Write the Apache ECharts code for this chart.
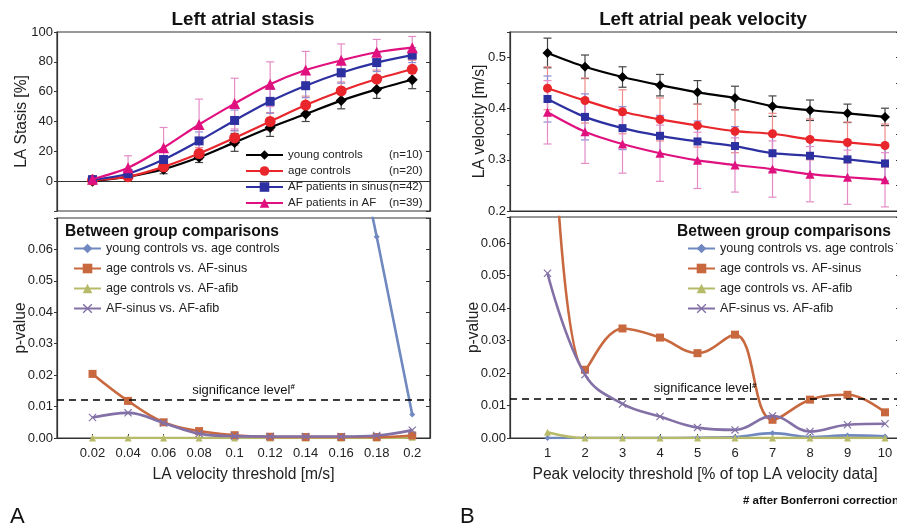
<!DOCTYPE html>
<html><head><meta charset="utf-8">
<script src="https://cdn.jsdelivr.net/npm/echarts@6/dist/echarts.min.js"></script>
<style>html,body{margin:0;padding:0;background:#fff}#c{width:897px;height:529px}</style>
</head><body><div id="c"></div>
<script>
// ---------- data ----------
const thresholdsA = [0.02, 0.04, 0.06, 0.08, 0.1, 0.12, 0.14, 0.16, 0.18, 0.2];
const thresholdsB = [1, 2, 3, 4, 5, 6, 7, 8, 9, 10];
const groups = ['young controls', 'age controls', 'AF patients in sinus', 'AF patients in AF'];
const groupN = ['(n=10)', '(n=20)', '(n=42)', '(n=39)'];

const stasisYoung = [0, 3, 8, 16, 26, 36, 45, 54, 61.5, 68];
const stasisAge   = [0.7, 3, 9.6, 18.5, 29, 40, 51, 60.5, 68.5, 75];
const stasisSinus = [1, 5, 14.5, 27, 40.7, 53.5, 64, 72.7, 79.5, 84.5];
const stasisAF    = [1.3, 9, 22.4, 38, 52, 65, 74.5, 81, 86.4, 89.5];
const stasisYoungSd = [1, 2, 3, 3.5, 6, 6, 5, 5.5, 6, 6];
const stasisAgeSd   = [1, 2, 3, 4, 5, 6, 6, 6, 6, 6];
const stasisSinusSd = [1, 3, 5, 6, 7, 8, 8, 7, 6, 5];
const stasisAFSd    = [1, 8, 13.6, 17, 17, 15, 12.5, 11, 8.6, 7.5];

const velYoung = [0.509, 0.482, 0.462, 0.446, 0.432, 0.421, 0.405, 0.397, 0.391, 0.384];
const velAge   = [0.440, 0.416, 0.394, 0.379, 0.367, 0.356, 0.351, 0.340, 0.334, 0.328];
const velSinus = [0.419, 0.384, 0.362, 0.347, 0.336, 0.327, 0.313, 0.308, 0.301, 0.293];
const velAF    = [0.393, 0.355, 0.331, 0.313, 0.299, 0.290, 0.282, 0.272, 0.266, 0.261];
const velYoungSd = [0.029, 0.023, 0.020, 0.021, 0.023, 0.023, 0.020, 0.020, 0.018, 0.017];
const velAgeSd   = [0.042, 0.044, 0.043, 0.042, 0.042, 0.042, 0.040, 0.040, 0.040, 0.042];
const velSinusSd = [0.045, 0.045, 0.042, 0.040, 0.040, 0.038, 0.036, 0.035, 0.035, 0.034];
const velAFSd    = [0.062, 0.062, 0.057, 0.055, 0.055, 0.053, 0.055, 0.054, 0.053, 0.053];

const comparisons = ['young controls vs. age controls', 'age controls vs. AF-sinus', 'age controls vs. AF-afib', 'AF-sinus vs. AF-afib'];
const pYoungAgeA  = [0.95, 0.85, 0.72, 0.58, 0.45, 0.33, 0.22, 0.12, 0.064, 0.0075];
const pAgeSinusA  = [0.0204, 0.0118, 0.0050, 0.0022, 0.0009, 0.0004, 0.0003, 0.0003, 0.0003, 0.0008];
const pAgeAfibA   = [0, 0, 0, 0, 0, 0, 0, 0, 0, 0.0002];
const pSinusAfibA = [0.0065, 0.0080, 0.0048, 0.0014, 0.0006, 0.0005, 0.0005, 0.0005, 0.0008, 0.0025];

const pYoungAgeB  = [0, 0, 0, 0, 0.0001, 0.0003, 0.0015, 0.0003, 0.0008, 0.0005];
const pAgeSinusB  = [0.14, 0.0210, 0.0337, 0.0309, 0.0261, 0.0318, 0.0056, 0.0118, 0.0133, 0.0079];
const pAgeAfibB   = [0.0018, 0, 0, 0, 0, 0, 0, 0, 0, 0];
const pSinusAfibB = [0.0507, 0.0195, 0.0105, 0.0066, 0.0032, 0.0025, 0.0068, 0.0020, 0.0041, 0.0044];

const significance = 0.0122;

// ---------- styles ----------
const FONT = 'Liberation Sans, Arial, Helvetica, sans-serif';
const groupColors = ['#000000', '#e8262b', '#2d30a0', '#e0117f'];
const errColors = ['#444444', '#f08a8a', '#8c8cd6', '#e58cc6'];
const groupSymbols = ['diamond', 'circle', 'rect', 'triangle'];
const groupSizesTop = [11, 11, 9, 11];
const groupSizesR = [10, 9, 8, 9];
const cmpColors = ['#7088c0', '#c8683f', '#b7ba68', '#8270a6'];
const XPATH = 'path://M1,0 L5,4 L9,0 L10,1 L6,5 L10,9 L9,10 L5,6 L1,10 L0,9 L4,5 L0,1 Z';
const cmpSymbols = ['diamond', 'rect', 'triangle', XPATH];
const cmpSizes = [6, 8, 7, 8];
const BORDER = '#333';

function pairs(xs, ys) { return xs.map((x, i) => [x, ys[i]]); }
function errData(xs, ys, sd) { return xs.map((x, i) => [x, ys[i] - sd[i], ys[i] + sd[i]]); }

function errRender(params, api) {
  const x = api.value(0), lo = api.value(1), hi = api.value(2);
  const a = api.coord([x, lo]), b = api.coord([x, hi]);
  const hw = 4;
  const st = { stroke: api.visual('color'), lineWidth: 1.2, fill: null };
  return { type: 'group', children: [
    { type: 'line', shape: { x1: a[0], y1: a[1], x2: b[0], y2: b[1] }, style: st },
    { type: 'line', shape: { x1: a[0] - hw, y1: a[1], x2: a[0] + hw, y2: a[1] }, style: st },
    { type: 'line', shape: { x1: b[0] - hw, y1: b[1], x2: b[0] + hw, y2: b[1] }, style: st }
  ]};
}

const grids = [
  { left: 57, top: 32, width: 373, height: 179 },
  { left: 510, top: 32, width: 390, height: 179 },
  { left: 57, top: 218, width: 373, height: 220 },
  { left: 510, top: 217, width: 390, height: 221 }
];
grids.forEach(g => { g.show = true; g.borderColor = BORDER; g.borderWidth = 1.2; g.backgroundColor = 'transparent'; g.outerBoundsMode = 'none'; g.containLabel = false; });

const axLine = { show: true, lineStyle: { color: BORDER, width: 1.2 } };
const lbl = { color: '#222', fontSize: 13, fontFamily: FONT };
const nameStyle = { fontSize: 15.6, color: '#222', fontFamily: FONT };

const xAxes = [
  { gridIndex: 0, type: 'value', min: 0, max: 0.21, interval: 0.02, axisLabel: { show: false }, axisTick: { show: false }, splitLine: { show: false }, axisLine: axLine },
  { gridIndex: 1, type: 'value', min: 0, max: 10.4, interval: 1, axisLabel: { show: false }, axisTick: { show: false }, splitLine: { show: false }, axisLine: axLine },
  { gridIndex: 2, type: 'value', min: 0, max: 0.21, interval: 0.02, splitLine: { show: false }, axisLine: axLine,
    axisTick: { inside: true, length: 4, lineStyle: { color: BORDER } },
    axisLabel: Object.assign({ margin: 9, formatter: v => (v < 0.01 || v > 0.205) ? '' : String(+v.toFixed(2)) }, lbl),
    name: 'LA velocity threshold [m/s]', nameLocation: 'middle', nameGap: 29, nameMoveOverlap: false, nameTextStyle: nameStyle },
  { gridIndex: 3, type: 'value', min: 0, max: 10.4, interval: 1, splitLine: { show: false }, axisLine: axLine,
    axisTick: { inside: true, length: 4, lineStyle: { color: BORDER } },
    axisLabel: Object.assign({ margin: 9, formatter: v => (v < 0.5 || v > 10.2) ? '' : String(v) }, lbl),
    name: 'Peak velocity threshold [% of top LA velocity data]', nameLocation: 'middle', nameGap: 29, nameMoveOverlap: false, nameTextStyle: nameStyle }
];

const yName = (name, gap) => ({ name, nameLocation: 'middle', nameGap: gap, nameRotate: 90, nameTextStyle: nameStyle });
const pFmt = v => v <= 0.0605 ? v.toFixed(2) : '';
const yDefs = [
  Object.assign({ min: -20, max: 100, interval: 20, fmt: v => v < 0 ? '' : String(v) }, yName('LA Stasis [%]', 27)),
  Object.assign({ min: 0.2, max: 0.55, interval: 0.05, fmt: v => { const k = Math.round(v * 100); return k % 10 === 0 ? String(k / 100) : ''; } }, yName('LA velocity [m/s]', 22)),
  Object.assign({ min: 0, max: 0.07, interval: 0.01, fmt: pFmt }, yName('p-value', 28)),
  Object.assign({ min: 0, max: 0.068, interval: 0.01, fmt: pFmt }, yName('p-value', 28))
];
const yAxes = [];
yDefs.forEach((d, i) => {
  yAxes.push({ gridIndex: i, type: 'value', min: d.min, max: d.max, interval: d.interval, position: 'left',
    splitLine: { show: false }, axisLine: axLine,
    axisTick: { show: true, length: 3, lineStyle: { color: BORDER } },
    axisLabel: Object.assign({ margin: 4, formatter: d.fmt }, lbl),
    name: d.name, nameLocation: d.nameLocation, nameGap: d.nameGap, nameRotate: d.nameRotate, nameMoveOverlap: false, nameTextStyle: d.nameTextStyle });
});
yDefs.forEach((d, i) => {
  yAxes.push({ gridIndex: i, type: 'value', min: d.min, max: d.max, interval: d.interval, position: 'right',
    splitLine: { show: false }, axisLine: axLine,
    axisTick: { show: true, inside: true, length: 4, lineStyle: { color: BORDER } },
    axisLabel: { show: false } });
});

const series = [];
const stasisMeans = [stasisYoung, stasisAge, stasisSinus, stasisAF];
const stasisSds = [stasisYoungSd, stasisAgeSd, stasisSinusSd, stasisAFSd];
const velMeans = [velYoung, velAge, velSinus, velAF];
const velSds = [velYoungSd, velAgeSd, velSinusSd, velAFSd];

[[0, thresholdsA, stasisMeans, stasisSds, groupSizesTop], [1, thresholdsB, velMeans, velSds, groupSizesR]].forEach(([gi, xs, means, sds, sizes]) => {
  means.forEach((m, k) => {
    series.push({ type: 'custom', name: 'err' + gi + k, xAxisIndex: gi, yAxisIndex: gi, z: 1,
      renderItem: errRender, itemStyle: { color: errColors[k] },
      encode: { x: 0, y: [1, 2] }, data: errData(xs, m, sds[k]), silent: true });
  });
  means.forEach((m, k) => {
    series.push({ type: 'line', name: groups[k], xAxisIndex: gi, yAxisIndex: gi, z: 3 + k,
      data: pairs(xs, m), symbol: groupSymbols[k], symbolSize: sizes[k], showAllSymbol: true,
      smooth: 0.3, lineStyle: { color: groupColors[k], width: 2.2 },
      itemStyle: { color: groupColors[k] }, animation: false });
  });
});

const pA = [pYoungAgeA, pAgeSinusA, pAgeAfibA, pSinusAfibA];
const pB = [pYoungAgeB, pAgeSinusB, pAgeAfibB, pSinusAfibB];
[[2, thresholdsA, pA, 0.21], [3, thresholdsB, pB, 10.4]].forEach(([gi, xs, ps, xmax]) => {
  ps.forEach((p, k) => {
    const s = { type: 'line', name: comparisons[k], xAxisIndex: gi, yAxisIndex: gi, z: 3 + (k === 2 ? 0 : k),
      data: pairs(xs, p), symbol: cmpSymbols[k], symbolSize: cmpSizes[k], showAllSymbol: true,
      smooth: 0.4, clip: true, lineStyle: { color: cmpColors[k], width: 2.6 },
      itemStyle: { color: cmpColors[k] }, animation: false };
    if (k === 0) {
      s.markLine = { silent: true, symbol: 'none', animation: false, precision: 6,
        lineStyle: { color: '#000', type: [7, 5], width: 1.6 },
        label: { show: true, position: 'insideMiddleTop', distance: 2, formatter: 'significance level{s|#}', color: '#111', fontSize: 13, fontFamily: FONT,
          rich: { s: { fontSize: 8, fontWeight: 'bold', padding: [0, 0, 7, 0], color: '#111' } } },
        data: [[{ coord: [0, significance] }, { coord: [xmax, significance] }]] };
    }
    series.push(s);
  });
});

const legends = [
  { left: 245, top: 149, padding: 0, orient: 'vertical', itemWidth: 37, itemHeight: 12, itemGap: 4, selectedMode: false,
    data: groups, formatter: name => '{a|' + name + '}{b|' + groupN[groups.indexOf(name)] + '}',
    textStyle: { fontSize: 11.5, color: '#222', fontFamily: FONT, rich: { a: { width: 101, fontSize: 11.5, fontFamily: FONT, color: '#222' }, b: { fontSize: 11.5, fontFamily: FONT, color: '#222' } } } },
  { left: 73, top: 242, padding: 0, orient: 'vertical', itemWidth: 27, itemHeight: 12, itemGap: 7, selectedMode: false,
    data: comparisons, textStyle: { fontSize: 12.6, color: '#222', fontFamily: FONT } },
  { left: 687, top: 242, padding: 0, orient: 'vertical', itemWidth: 27, itemHeight: 12, itemGap: 7, selectedMode: false,
    data: comparisons, textStyle: { fontSize: 12.6, color: '#222', fontFamily: FONT } }
];

const txt = (x, y, text, font, align) => ({ type: 'text', x, y, silent: true,
  style: { text, font, textAlign: align || 'left', textVerticalAlign: 'middle', fill: '#111' } });
const graphic = [
  txt(243, 20, 'Left atrial stasis', 'bold 18.8px ' + FONT, 'center'),
  txt(703, 20, 'Left atrial peak velocity', 'bold 18.8px ' + FONT, 'center'),
  txt(65, 232, 'Between group comparisons', 'bold 15.6px ' + FONT),
  txt(677, 232, 'Between group comparisons', 'bold 15.6px ' + FONT),
  txt(743, 501, '# after Bonferroni correction', 'bold 11.5px ' + FONT),
  txt(10, 517, 'A', '22px ' + FONT),
  txt(460, 517, 'B', '22px ' + FONT)
];

const chart = echarts.init(document.getElementById('c'), null, { renderer: 'canvas' });
chart.setOption({
  animation: false,
  backgroundColor: '#fff',
  textStyle: { fontFamily: FONT },
  grid: grids,
  xAxis: xAxes,
  yAxis: yAxes,
  legend: legends,
  series,
  graphic
});
</script></body></html>
